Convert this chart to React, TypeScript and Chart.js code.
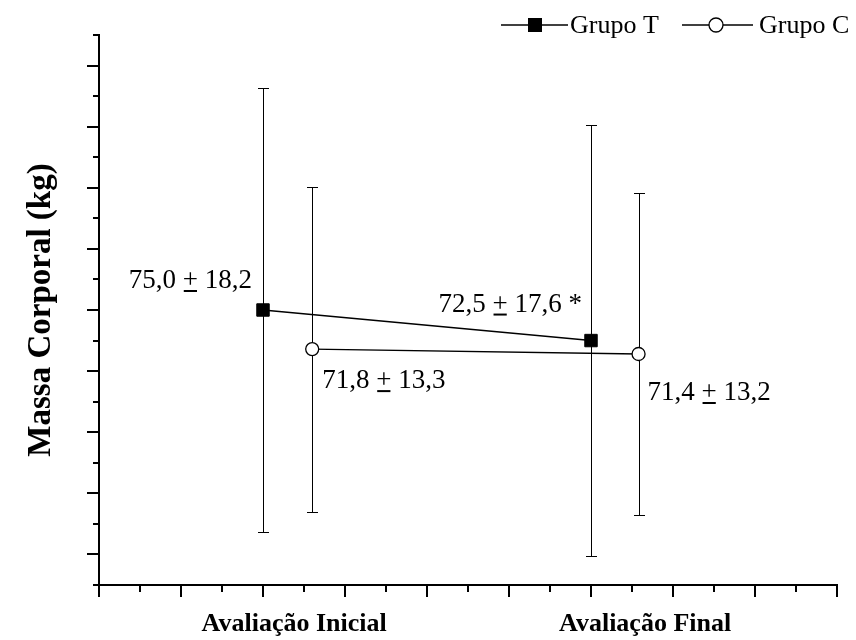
import React, { useEffect, useRef } from 'react';
import { Chart, registerables } from 'chart.js';

Chart.register(...registerables);

// ---- data ----
const categories = ['Avaliação Inicial', 'Avaliação Final'];
const categoryLabelX = [2.38, 6.66];
const seriesNames = ['Grupo T', 'Grupo C'];
const groupTX = [2, 6];
const groupCX = [2.6, 6.58];
const groupTMean = [75.0, 72.5];
const groupTSD = [18.2, 17.6];
const groupCMean = [71.8, 71.4];
const groupCSD = [13.3, 13.2];
const groupTSuffix = ['', ' *'];
const groupCSuffix = ['', ''];
const yAxisTitle = 'Massa Corporal (kg)';
const yMin = 52.5;
const yMax = 97.5;
const yMajorStep = 5;
const yMinorStep = 2.5;
const xMin = 0;
const xMax = 9;
const xMajorStep = 1;
const xMinorStep = 0.5;

const SERIF = '"Liberation Serif", "Times New Roman", serif';

const fmt = (v: number) => v.toFixed(1).replace('.', ',');

const isMultiple = (v: number, step: number) => Math.abs(v / step - Math.round(v / step)) < 1e-6;

const axisTicksPlugin = {
  id: 'axisTicks',
  afterDraw(chart: any) {
    const { ctx, chartArea } = chart;
    const x = chart.scales.x;
    const y = chart.scales.y;
    ctx.save();
    ctx.strokeStyle = '#000';
    ctx.lineWidth = 2;
    for (let v = yMin; v <= yMax + 1e-9; v += yMinorStep) {
      const py = Math.round(y.getPixelForValue(v));
      const len = isMultiple(v, yMajorStep) ? 12 : 6;
      ctx.beginPath();
      ctx.moveTo(chartArea.left - len, py);
      ctx.lineTo(chartArea.left, py);
      ctx.stroke();
    }
    for (let v = xMin; v <= xMax + 1e-9; v += xMinorStep) {
      const px = Math.round(x.getPixelForValue(v));
      const len = isMultiple(v, xMajorStep) ? 12 : 7;
      ctx.beginPath();
      ctx.moveTo(px, chartArea.bottom);
      ctx.lineTo(px, chartArea.bottom + len);
      ctx.stroke();
    }
    ctx.restore();
  },
};

const errorBarsPlugin = {
  id: 'errorBars',
  beforeDatasetsDraw(chart: any) {
    const { ctx } = chart;
    const y = chart.scales.y;
    ctx.save();
    ctx.strokeStyle = '#000';
    ctx.lineWidth = 1;
    chart.data.datasets.forEach((ds: any, i: number) => {
      const meta = chart.getDatasetMeta(i);
      ds.sd.forEach((sd: number, j: number) => {
        const el = meta.data[j];
        const m = ds.data[j].y;
        const px = Math.round(el.x) + 0.5;
        const top = Math.round(y.getPixelForValue(m + sd)) + 0.5;
        const bot = Math.round(y.getPixelForValue(m - sd)) + 0.5;
        ctx.beginPath();
        ctx.moveTo(px, top);
        ctx.lineTo(px, bot);
        ctx.moveTo(px - 5.5, top);
        ctx.lineTo(px + 5.5, top);
        ctx.moveTo(px - 5.5, bot);
        ctx.lineTo(px + 5.5, bot);
        ctx.stroke();
      });
    });
    ctx.restore();
  },
};

const labelOffsets = [
  [
    { dx: -11, dy: -22, align: 'right' },
    { dx: -9, dy: -29, align: 'right' },
  ],
  [
    { dx: 10, dy: 39, align: 'left' },
    { dx: 9, dy: 46, align: 'left' },
  ],
];

const drawPM = (ctx: any, parts: string[], x: number, y: number, align: string) => {
  const widths = parts.map((p) => ctx.measureText(p).width);
  const total = widths.reduce((a, b) => a + b, 0);
  let cx = align === 'right' ? x - total : x;
  parts.forEach((p, k) => {
    ctx.fillText(p, cx, y);
    if (k === 1) {
      ctx.fillRect(cx + 1, y + 2, widths[k] - 2, 2);
    }
    cx += widths[k];
  });
};

const annotationsPlugin = {
  id: 'annotations',
  afterDatasetsDraw(chart: any) {
    const { ctx } = chart;
    ctx.save();
    ctx.fillStyle = '#000';
    ctx.font = `27px ${SERIF}`;
    ctx.textBaseline = 'alphabetic';
    ctx.textAlign = 'left';
    chart.data.datasets.forEach((ds: any, i: number) => {
      const meta = chart.getDatasetMeta(i);
      ds.data.forEach((d: any, j: number) => {
        const el = meta.data[j];
        const off = labelOffsets[i][j];
        const parts = [fmt(d.y) + ' ', '+', ' ' + fmt(ds.sd[j]) + ds.suffix[j]];
        drawPM(ctx, parts, el.x + off.dx, el.y + off.dy, off.align);
      });
    });
    ctx.restore();
  },
};

const legendPlugin = {
  id: 'customLegend',
  afterDraw(chart: any) {
    const { ctx } = chart;
    ctx.save();
    ctx.strokeStyle = '#000';
    ctx.fillStyle = '#000';
    ctx.lineWidth = 1.3;
    const ly = 25;
    // Grupo T
    ctx.beginPath();
    ctx.moveTo(501, ly);
    ctx.lineTo(568, ly);
    ctx.stroke();
    ctx.fillRect(528, ly - 7, 14, 14);
    // Grupo C
    ctx.beginPath();
    ctx.moveTo(682, ly);
    ctx.lineTo(753, ly);
    ctx.stroke();
    ctx.beginPath();
    ctx.arc(716, ly, 7, 0, Math.PI * 2);
    ctx.fillStyle = '#fff';
    ctx.fill();
    ctx.stroke();
    ctx.fillStyle = '#000';
    ctx.font = `26px ${SERIF}`;
    ctx.textBaseline = 'alphabetic';
    ctx.textAlign = 'left';
    ctx.fillText(seriesNames[0], 570, 33);
    ctx.fillText(seriesNames[1], 759, 33);
    ctx.restore();
  },
};

export default function App() {
  const canvasRef = useRef<HTMLCanvasElement | null>(null);

  useEffect(() => {
    if (!canvasRef.current) return;
    const chart = new Chart(canvasRef.current, {
      type: 'line',
      data: {
        datasets: [
          {
            label: seriesNames[0],
            data: groupTX.map((x, i) => ({ x, y: groupTMean[i] })),
            sd: groupTSD,
            suffix: groupTSuffix,
            borderColor: '#000',
            borderWidth: 1.4,
            backgroundColor: '#000',
            pointStyle: 'rect',
            pointRadius: 8.8,
            pointBorderWidth: 1,
            pointBorderColor: '#000',
            pointBackgroundColor: '#000',
            tension: 0,
          } as any,
          {
            label: seriesNames[1],
            data: groupCX.map((x, i) => ({ x, y: groupCMean[i] })),
            sd: groupCSD,
            suffix: groupCSuffix,
            borderColor: '#000',
            borderWidth: 1.4,
            backgroundColor: '#fff',
            pointStyle: 'circle',
            pointRadius: 6.5,
            pointBorderWidth: 1.3,
            pointBorderColor: '#000',
            pointBackgroundColor: '#fff',
            tension: 0,
          } as any,
        ],
      },
      options: {
        animation: false,
        responsive: false,
        layout: { padding: { top: 35, right: 19, left: 0, bottom: 0 } },
        plugins: {
          legend: { display: false },
          tooltip: { enabled: false },
        },
        scales: {
          x: {
            type: 'linear',
            min: xMin,
            max: xMax,
            afterBuildTicks: (s: any) => {
              s.ticks = categoryLabelX.map((v) => ({ value: v }));
            },
            ticks: {
              callback: (_v: any, i: number) => categories[i],
              font: { family: SERIF, size: 26, weight: 'bold' },
              color: '#000',
              padding: 24,
              autoSkip: false,
              maxRotation: 0,
              minRotation: 0,
            },
            grid: { display: false, drawTicks: false },
            border: { display: true, color: '#000', width: 2 },
            afterFit: (s: any) => {
              s.height = 55;
            },
          },
          y: {
            type: 'linear',
            min: yMin,
            max: yMax,
            ticks: { display: false },
            grid: { display: false, drawTicks: false },
            border: { display: true, color: '#000', width: 2 },
            title: {
              display: true,
              text: yAxisTitle,
              font: { family: SERIF, size: 33, weight: 'bold' },
              color: '#000',
              padding: { top: 22, bottom: 0 },
            },
            afterFit: (s: any) => {
              s.width = 99;
            },
          },
        },
      } as any,
      plugins: [errorBarsPlugin, annotationsPlugin, axisTicksPlugin, legendPlugin],
    });
    return () => chart.destroy();
  }, []);

  return (
    <div style={{ position: 'fixed', left: 0, top: 0, width: 856, height: 640, background: '#fff' }}>
      <canvas ref={canvasRef} width={856} height={640} style={{ width: 856, height: 640, display: 'block' }} />
    </div>
  );
}
